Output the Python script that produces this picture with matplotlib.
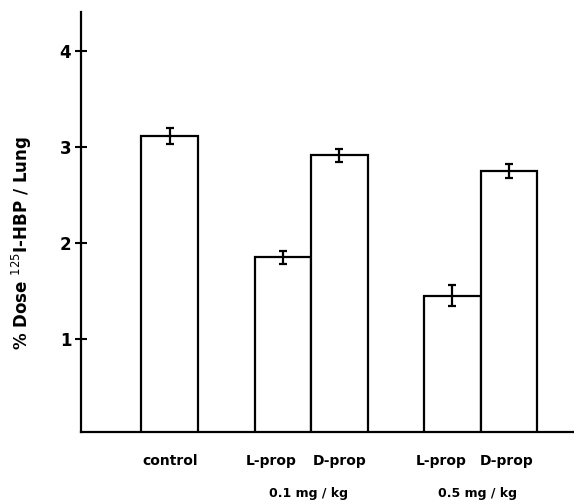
import matplotlib
matplotlib.use("Agg")
import matplotlib.pyplot as plt

categories = ["control", "L-prop", "D-prop", "L-prop", "D-prop"]
groups = [0, 1, 1, 2, 2]
values = [3.11, 1.85, 2.91, 1.45, 2.75]
errors = [0.08, 0.07, 0.07, 0.11, 0.07]
dose_labels = ["0.1 mg / kg", "0.5 mg / kg"]
yticks = [1, 2, 3, 4]

plt.rcParams['font.family'] = ['DejaVu Sans']
fig = plt.figure(figsize=(5.74, 5.04), dpi=100)
ax = fig.add_axes([0.141, 0.143, 0.859, 0.833])

# positions: bars within a group adjacent, one bar-width gap between groups
pos = []
x = 0
prev = None
for g in groups:
    if prev is not None:
        x += 1 if g == prev else 2
    pos.append(x)
    prev = g

ax.bar(pos, values, width=1.0, color='white', edgecolor='black', linewidth=1.6)
ax.errorbar(pos, values, yerr=errors, fmt='none', ecolor='black', elinewidth=1.6,
            capsize=3, capthick=1.6)

ax.set_xlim(-1.57, 7.15)
ax.set_ylim(0.035, 4.4)
ax.spines['top'].set_visible(False)
ax.spines['right'].set_visible(False)
ax.spines['left'].set_linewidth(1.6)
ax.spines['bottom'].set_linewidth(1.6)
ax.set_yticks(yticks)
ax.set_yticklabels([str(t) for t in yticks], fontsize=12, fontweight='bold')
ax.tick_params(axis='y', direction='inout', length=8, width=1.5, pad=3)
ax.set_xticks([])

# per-bar labels, nudged apart within a pair as in the reference
offsets = [0.0, -0.2, 0.0, -0.2, -0.05]
for p, c, o in zip(pos, categories, offsets):
    ax.text(p + o, -0.27, c, ha='center', va='center', fontsize=10, fontweight='bold')

# dose labels under the grouped pairs
for gi, lab in zip([1, 2], dose_labels):
    gp = [p for p, g in zip(pos, groups) if g == gi]
    ax.text(sum(gp) / len(gp) - 0.05, -0.6, lab, ha='center', va='center', fontsize=9, fontweight='bold')

ax.set_ylabel(r'% Dose $^{125}$I-HBP / Lung', fontsize=12, fontweight='bold')
ax.yaxis.set_label_coords(-0.095, 0.45)

fig.savefig("out.png", dpi=100)
